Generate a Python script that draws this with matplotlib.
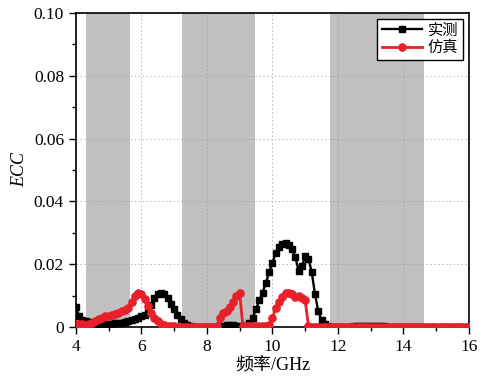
import numpy as np
import matplotlib
matplotlib.use("Agg")
import matplotlib.pyplot as plt
from matplotlib.ticker import MultipleLocator

plt.rcParams['font.family'] = ['Liberation Serif', 'Noto Sans CJK SC']

# frequency grid, GHz
freq = np.round(np.arange(4.0, 16.01, 0.1), 2)

# measured ECC (实测)
ecc_meas = [
    0.0064, 0.0035, 0.0022, 0.0018, 0.0015, 0.0013, 0.0012, 0.0011, 0.0010, 0.0010,  # 4.0-4.9
    0.0010, 0.0011, 0.0012, 0.0013, 0.0014, 0.0016, 0.0018, 0.0022, 0.0026, 0.0030,  # 5.0-5.9
    0.0035, 0.0040, 0.0048, 0.0072, 0.0092, 0.0106, 0.0110, 0.0104, 0.0092, 0.0075,  # 6.0-6.9
    0.0058, 0.0040, 0.0026, 0.0014, 0.0006, 0.0003, 0.0002, 0.0002, 0.0002, 0.0002,  # 7.0-7.9
    0.0002, 0.0002, 0.0002, 0.0002, 0.0002, 0.0005, 0.0006, 0.0006, 0.0006, 0.0005,  # 8.0-8.9
    0.0003, 0.0003, 0.0005, 0.0012, 0.0030, 0.0058, 0.0085, 0.0110, 0.0140, 0.0175,  # 9.0-9.9
    0.0205, 0.0235, 0.0255, 0.0266, 0.0268, 0.0262, 0.0248, 0.0222, 0.0180, 0.0195,  # 10.0-10.9
    0.0225, 0.0218, 0.0175, 0.0105, 0.0050, 0.0022, 0.0010, 0.0004, 0.0002, 0.0002,  # 11.0-11.9
    0.0002, 0.0002, 0.0002, 0.0002, 0.0002, 0.0003, 0.0003, 0.0004, 0.0004, 0.0004,  # 12.0-12.9
    0.0004, 0.0004, 0.0004, 0.0003, 0.0003, 0.0002, 0.0002, 0.0002, 0.0002, 0.0002,  # 13.0-13.9
    0.0002, 0.0002, 0.0002, 0.0002, 0.0002, 0.0002, 0.0002, 0.0002, 0.0002, 0.0002,  # 14.0-14.9
    0.0002, 0.0002, 0.0002, 0.0002, 0.0002, 0.0002, 0.0002, 0.0002, 0.0002, 0.0002,  # 15.0-15.9
    0.0002,                                                                          # 16.0
]

# simulated ECC (仿真)
ecc_sim = [
    0.0010, 0.0010, 0.0009, 0.0008, 0.0009, 0.0012, 0.0018, 0.0025, 0.0030, 0.0034,  # 4.0-4.9
    0.0037, 0.0040, 0.0043, 0.0046, 0.0050, 0.0054, 0.0060, 0.0080, 0.0100, 0.0110,  # 5.0-5.9
    0.0106, 0.0090, 0.0066, 0.0045, 0.0030, 0.0018, 0.0010, 0.0006, 0.0004, 0.0003,  # 6.0-6.9
    0.0003, 0.0002, 0.0002, 0.0002, 0.0002, 0.0002, 0.0002, 0.0002, 0.0002, 0.0002,  # 7.0-7.9
    0.0002, 0.0002, 0.0002, 0.0003, 0.0030, 0.0045, 0.0050, 0.0065, 0.0080, 0.0100,  # 8.0-8.9
    0.0108, 0.0003, 0.0003, 0.0003, 0.0003, 0.0003, 0.0003, 0.0003, 0.0004, 0.0006,  # 9.0-9.9
    0.0030, 0.0060, 0.0080, 0.0095, 0.0108, 0.0110, 0.0105, 0.0095, 0.0100, 0.0092,  # 10.0-10.9
    0.0085, 0.0003, 0.0002, 0.0002, 0.0002, 0.0002, 0.0002, 0.0002, 0.0002, 0.0002,  # 11.0-11.9
    0.0002, 0.0002, 0.0002, 0.0002, 0.0002, 0.0002, 0.0002, 0.0002, 0.0002, 0.0002,  # 12.0-12.9
    0.0002, 0.0002, 0.0002, 0.0002, 0.0002, 0.0002, 0.0002, 0.0002, 0.0002, 0.0002,  # 13.0-13.9
    0.0002, 0.0002, 0.0002, 0.0002, 0.0002, 0.0002, 0.0002, 0.0002, 0.0002, 0.0002,  # 14.0-14.9
    0.0002, 0.0002, 0.0002, 0.0002, 0.0002, 0.0002, 0.0002, 0.0002, 0.0002, 0.0002,  # 15.0-15.9
    0.0002,                                                                          # 16.0
]

# shaded bands (GHz)
bands = [(4.3, 5.65), (7.25, 9.47), (11.77, 14.63)]

fig = plt.figure(figsize=(4.83, 3.89), dpi=100)
ax = fig.add_axes([0.157, 0.159, 0.814, 0.808])

for a, b in bands:
    ax.axvspan(a, b, color="#c0c0c0", lw=0, zorder=0)

ax.grid(True, which="major", ls=(0, (1.5, 2.5)), color="#9a9a9a", lw=0.7, alpha=0.7, zorder=1)

ax.plot(freq, ecc_meas, color="black", marker="s", ms=4.8, lw=1.7, label="实测", zorder=3)
ax.plot(freq, ecc_sim, color="#e8202a", marker="o", ms=5.2, lw=2.0, label="仿真", zorder=4)

ax.set_xlim(4, 16)
ax.set_ylim(0, 0.10)
ax.xaxis.set_major_locator(MultipleLocator(2))
ax.xaxis.set_minor_locator(MultipleLocator(1))
ax.yaxis.set_major_locator(MultipleLocator(0.02))
ax.yaxis.set_minor_locator(MultipleLocator(0.01))
ax.set_yticks([0, 0.02, 0.04, 0.06, 0.08, 0.10])
ax.set_yticklabels(["0", "0.02", "0.04", "0.06", "0.08", "0.10"])
ax.tick_params(which="major", length=5, width=1, labelsize=12.5)
ax.tick_params(which="minor", length=3, width=1)
for s in ax.spines.values():
    s.set_linewidth(1.2)

ax.set_xlabel("频率/GHz", fontsize=13, labelpad=2)
ax.set_ylabel("ECC", fontsize=13, style="italic", labelpad=4)

leg = ax.legend(loc="upper right", fontsize=11, frameon=True, fancybox=False,
                edgecolor="black", borderpad=0.3, handlelength=2.6,
                handletextpad=0.4, labelspacing=0.2, borderaxespad=0.4)
leg.get_frame().set_linewidth(1.0)
leg.get_frame().set_alpha(1)

fig.savefig("out.png", dpi=100)
